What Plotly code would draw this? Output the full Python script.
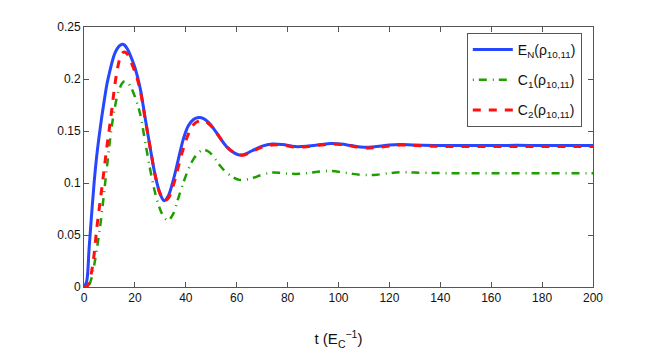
import plotly.graph_objects as go

# temps (E_C^-1)
t = [0, 1, 2, 3, 4, 5, 6, 7, 8, 9, 10, 11, 12, 13, 14, 15, 16, 17, 18, 20,
     22, 24, 26, 28, 30, 31.5, 33, 35, 37, 39, 41, 43, 45, 47, 49, 51, 53,
     56, 59, 61, 63, 66, 70, 74, 78, 83, 88, 93, 97, 101, 105, 110, 115,
     120, 124, 130, 140, 150, 160, 170, 180, 190, 200]

# E_N(rho_10,11)
en = [0, 0.005, 0.037, 0.07, 0.101, 0.126, 0.146, 0.164, 0.18, 0.195, 0.206,
      0.216, 0.224, 0.229, 0.232, 0.2335, 0.2325, 0.229, 0.224, 0.211,
      0.192, 0.163, 0.134, 0.107, 0.089, 0.083, 0.087, 0.102, 0.122, 0.142,
      0.155, 0.161, 0.163, 0.162, 0.158, 0.152, 0.145, 0.135, 0.129, 0.127,
      0.1275, 0.131, 0.1355, 0.1375, 0.137, 0.135, 0.1355, 0.137, 0.138,
      0.1375, 0.136, 0.1343, 0.135, 0.1365, 0.137, 0.1365, 0.136, 0.136,
      0.136, 0.1362, 0.136, 0.136, 0.136]

# C_1(rho_10,11)
c1 = [0, 0, 0.002, 0.009, 0.021, 0.036, 0.052, 0.071, 0.093, 0.115, 0.137,
      0.156, 0.171, 0.183, 0.191, 0.196, 0.198, 0.197, 0.194, 0.183,
      0.167, 0.14, 0.113, 0.09, 0.074, 0.067, 0.064, 0.07, 0.085, 0.1,
      0.113, 0.123, 0.129, 0.132, 0.13, 0.125, 0.118, 0.11, 0.105, 0.103,
      0.103, 0.1045, 0.108, 0.11, 0.1095, 0.1087, 0.1095, 0.1112, 0.1115,
      0.1105, 0.109, 0.1077, 0.108, 0.1095, 0.1103, 0.11, 0.1095, 0.1093,
      0.1093, 0.1093, 0.1093, 0.1093, 0.1093]

# C_2(rho_10,11)
c2 = [0, 0, 0.004, 0.015, 0.032, 0.056, 0.076, 0.095, 0.115, 0.135, 0.153,
      0.172, 0.192, 0.208, 0.219, 0.225, 0.226, 0.224, 0.219, 0.207,
      0.19, 0.162, 0.134, 0.107, 0.089, 0.083, 0.085, 0.097, 0.115, 0.133,
      0.147, 0.156, 0.1595, 0.16, 0.157, 0.152, 0.145, 0.135, 0.129, 0.127,
      0.127, 0.13, 0.1345, 0.1365, 0.1365, 0.1345, 0.135, 0.1365, 0.1375,
      0.137, 0.1355, 0.1338, 0.1342, 0.1355, 0.1365, 0.136, 0.1352, 0.135,
      0.135, 0.135, 0.135, 0.135, 0.135]

x_ticks = [0, 20, 40, 60, 80, 100, 120, 140, 160, 180, 200]
y_ticks = [0, 0.05, 0.1, 0.15, 0.2, 0.25]
y_labels = ['0', '0.05', '0.1', '0.15', '0.2', '0.25']

fig = go.Figure()
fig.add_trace(go.Scatter(x=t, y=en, mode='lines', line_shape='spline',
                         name='E<sub>N</sub>(ρ<sub>10,11</sub>)', legendgroup='a',
                         line=dict(color='#2646ff', width=3)))
fig.add_trace(go.Scatter(x=t, y=c1, mode='lines', line_shape='spline',
                         name='C<sub>1</sub>(ρ<sub>10,11</sub>)', legendgroup='b',
                         line=dict(color='#1f9e00', width=2.5, dash='1px,5px,8px,6px')))
fig.add_trace(go.Scatter(x=t, y=c2, mode='lines', line_shape='spline',
                         name='C<sub>2</sub>(ρ<sub>10,11</sub>)', legendgroup='c',
                         line=dict(color='#ff1010', width=3, dash='8px,8px')))

axis_style = dict(showline=True, mirror='ticks', linecolor='#555555', linewidth=1,
                  ticks='inside', ticklen=5, tickcolor='#555555',
                  showgrid=False, zeroline=False, automargin=False,
                  tickfont=dict(family='Liberation Sans, Arial', size=12, color='#111111'))

# la page a une marge de 8px autour du graphe
fig.update_layout(
    width=654, height=361,
    margin=dict(l=76, r=69, t=19, b=82),
    paper_bgcolor='white', plot_bgcolor='white',
    font=dict(family='Liberation Sans, Arial', size=12, color='#111111'),
    xaxis=dict(range=[0, 200], tickvals=x_ticks,
               title=dict(text='t (E<sub>C</sub><sup>−1</sup>)', font=dict(size=15), standoff=29),
               **axis_style),
    yaxis=dict(range=[0, 0.25], tickvals=y_ticks, ticktext=y_labels, **axis_style),
    legend=dict(x=0.978, y=0.977, xanchor='right', yanchor='top',
                bgcolor='white', bordercolor='#555555', borderwidth=1,
                font=dict(size=14), tracegroupgap=9, itemwidth=40),
    showlegend=True,
)

fig.write_html("out.html")
